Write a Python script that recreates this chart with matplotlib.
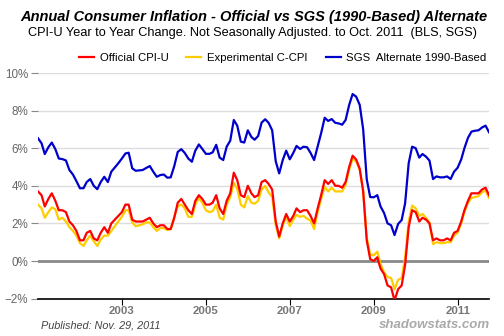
import matplotlib
matplotlib.use("Agg")
import matplotlib.pyplot as plt
import matplotlib.dates as mdates
import pandas as pd

plt.rcParams['font.family'] = ['Liberation Sans', 'DejaVu Sans']

# monthly, Jan 2001 .. Oct 2011
months = pd.date_range("2001-01-01", "2011-10-01", freq="MS")

# Official CPI-U, year-to-year %
cpi_u = [
    3.7, 3.5, 2.9, 3.3, 3.6, 3.2, 2.7, 2.7, 2.6, 2.1, 1.9, 1.6,
    1.1, 1.1, 1.5, 1.6, 1.2, 1.1, 1.5, 1.8, 1.5, 2.0, 2.2, 2.4,
    2.6, 3.0, 3.0, 2.2, 2.1, 2.1, 2.1, 2.2, 2.3, 2.0, 1.8, 1.9,
    1.9, 1.7, 1.7, 2.3, 3.1, 3.3, 3.0, 2.7, 2.5, 3.2, 3.5, 3.3,
    3.0, 3.0, 3.1, 3.5, 2.8, 2.5, 3.2, 3.6, 4.7, 4.3, 3.5, 3.4,
    4.0, 3.6, 3.4, 3.5, 4.2, 4.3, 4.1, 3.8, 2.1, 1.3, 2.0, 2.5,
    2.1, 2.4, 2.8, 2.6, 2.7, 2.7, 2.4, 2.0, 2.8, 3.5, 4.3, 4.1,
    4.3, 4.0, 4.0, 3.9, 4.2, 5.0, 5.6, 5.4, 4.9, 3.7, 1.1, 0.1,
    0.0, 0.2, -0.4, -0.7, -1.3, -1.4, -2.1, -1.5, -1.3, -0.2, 1.8, 2.7,
    2.6, 2.1, 2.3, 2.2, 2.0, 1.1, 1.2, 1.1, 1.1, 1.2, 1.1, 1.5,
    1.6, 2.1, 2.7, 3.2, 3.6, 3.6, 3.6, 3.8, 3.9, 3.5,
]

# Experimental C-CPI (chained)
c_cpi = [
    3.0, 2.8, 2.3, 2.6, 2.85, 2.75, 2.2, 2.3, 2.1, 1.8, 1.6, 1.35,
    0.95, 0.8, 1.1, 1.35, 1.05, 0.8, 1.15, 1.35, 1.35, 1.6, 1.85, 2.1,
    2.35, 2.7, 2.7, 2.05, 1.85, 1.9, 1.95, 2.05, 2.05, 1.8, 1.6, 1.75,
    1.75, 1.65, 1.7, 2.35, 2.9, 3.0, 2.8, 2.35, 2.35, 3.0, 3.35, 3.1,
    2.7, 2.6, 2.65, 3.0, 2.3, 2.2, 3.0, 3.4, 4.15, 3.85, 3.0, 2.85,
    3.45, 3.1, 3.05, 3.2, 3.8, 4.0, 3.65, 3.4, 1.9, 1.2, 1.9, 2.35,
    1.85, 2.2, 2.45, 2.35, 2.4, 2.25, 2.15, 1.7, 2.6, 3.3, 3.95, 3.7,
    3.9, 3.7, 3.7, 3.7, 4.05, 4.85, 5.45, 5.3, 4.85, 3.75, 1.25, 0.35,
    0.3, 0.5, -0.15, -0.6, -0.85, -0.9, -1.5, -1.0, -0.9, 0.2, 2.1, 2.95,
    2.8, 2.4, 2.5, 2.3, 2.05, 0.9, 1.0, 0.95, 0.95, 1.0, 1.0, 1.35,
    1.5, 2.0, 2.6, 3.1, 3.35, 3.4, 3.45, 3.65, 3.75, 3.35,
]

# SGS Alternate 1990-Based
sgs_1990 = [
    6.53, 6.26, 5.69, 6.05, 6.3, 5.95, 5.45, 5.42, 5.35, 4.84, 4.6, 4.25,
    3.87, 3.87, 4.2, 4.36, 4.0, 3.82, 4.2, 4.48, 4.2, 4.75, 4.98, 5.2,
    5.45, 5.72, 5.76, 4.93, 4.8, 4.82, 4.84, 4.95, 5.05, 4.75, 4.48, 4.57,
    4.6, 4.43, 4.45, 5.05, 5.8, 5.95, 5.75, 5.45, 5.28, 5.87, 6.2, 5.96,
    5.7, 5.7, 5.78, 6.18, 5.5, 5.37, 6.08, 6.4, 7.5, 7.2, 6.35, 6.3,
    6.95, 6.6, 6.45, 6.65, 7.36, 7.54, 7.35, 6.95, 5.3, 4.66, 5.37, 5.87,
    5.41, 5.75, 6.12, 5.96, 6.08, 6.05, 5.75, 5.37, 6.1, 6.8, 7.62, 7.45,
    7.55, 7.35, 7.32, 7.25, 7.5, 8.3, 8.88, 8.74, 8.3, 7.0, 4.35, 3.4,
    3.39, 3.5, 2.9, 2.55, 2.0, 1.9, 1.38, 1.97, 2.18, 3.07, 5.2, 6.08,
    6.0, 5.5, 5.69, 5.55, 5.34, 4.36, 4.5, 4.45, 4.45, 4.5, 4.36, 4.75,
    4.96, 5.4, 6.0, 6.55, 6.88, 6.93, 6.95, 7.1, 7.2, 6.85,
]

tick_years = [2003, 2005, 2007, 2009, 2011]
y_ticks = [-2, 0, 2, 4, 6, 8, 10]

fig = plt.figure(figsize=(5.04, 3.36), dpi=100)
ax = fig.add_axes([38 / 504, 1 - 298.6 / 336, 451 / 504, 225.6 / 336])

ax.plot(months, c_cpi, color="#ffcc00", lw=1.6, label="Experimental C-CPI", zorder=3)
ax.plot(months, cpi_u, color="#ff0000", lw=1.6, label="Official CPI-U", zorder=4)
ax.plot(months, sgs_1990, color="#0000cc", lw=1.6, label="SGS  Alternate 1990-Based", zorder=5)

ax.axhline(0, color="#888888", lw=2, zorder=2)

ax.set_xlim(months[0], months[-1])
ax.set_ylim(-2, 10)
ax.set_yticks(y_ticks)
ax.set_yticklabels([f"{v}%".replace("-", "\u2212") for v in y_ticks])
ax.set_xticks([pd.Timestamp(f"{y}-01-01") for y in tick_years])
ax.xaxis.set_major_formatter(mdates.DateFormatter("%Y"))

ax.yaxis.grid(True, color="#dddddd", lw=1)
ax.set_axisbelow(True)
for s in ["top", "right", "left"]:
    ax.spines[s].set_visible(False)
ax.spines["bottom"].set_color("black")
ax.spines["bottom"].set_linewidth(1.2)

ax.tick_params(axis="y", length=5, color="#888888", labelcolor="#666666", labelsize=8.4, pad=2)
ax.tick_params(axis="x", length=4, color="black", labelcolor="#777777", labelsize=8.2, pad=1)
for t in ax.get_xticklabels():
    t.set_fontweight("bold")

# legend in the order shown on the chart
h, l = ax.get_legend_handles_labels()
order = [1, 0, 2]
fig.legend([h[i] for i in order], [l[i] for i in order], ncol=3, frameon=False,
           loc="center right", bbox_to_anchor=(491 / 504, 1 - 58 / 336),
           fontsize=8.2, handlelength=1.3, handletextpad=0.5, columnspacing=1.6,
           borderaxespad=0)

fig.text(254 / 504, 1 - 17 / 336, "Annual Consumer Inflation - Official vs SGS (1990-Based) Alternate",
         ha="center", va="center", fontsize=10.5, fontweight="bold", fontstyle="italic", color="black")
fig.text(252 / 504, 1 - 33 / 336, "CPI-U Year to Year Change. Not Seasonally Adjusted. to Oct. 2011  (BLS, SGS)",
         ha="center", va="center", fontsize=9.2, color="black")

fig.text(41 / 504, 1 - 325 / 336, "Published: Nov. 29, 2011", ha="left", va="center",
         fontsize=7.8, fontstyle="italic", color="#444444")
fig.text(490 / 504, 1 - 324.5 / 336, "shadowstats.com", ha="right", va="center",
         fontsize=9.5, fontweight="bold", fontstyle="italic", color="#aaaaaa")

fig.savefig("out.png", dpi=100)
